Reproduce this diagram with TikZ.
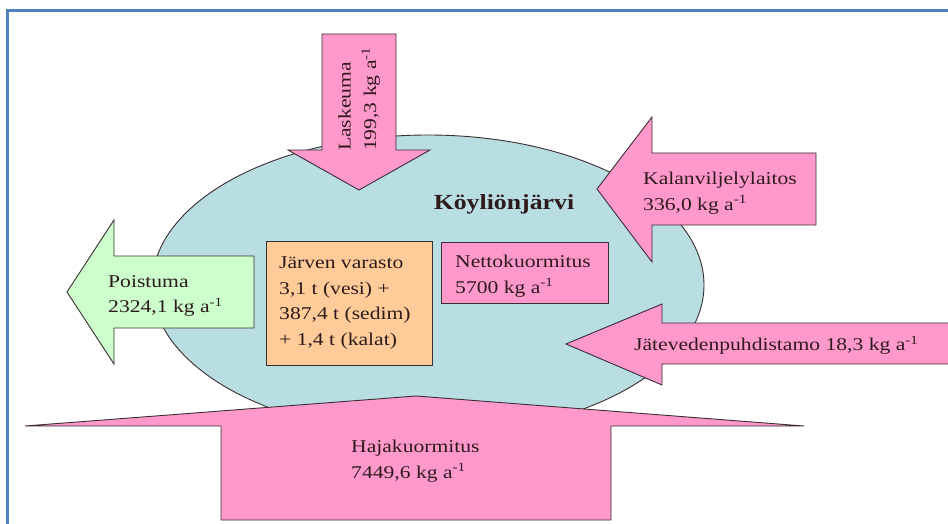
\documentclass[tikz,border=0pt]{standalone}
\usepackage{fontspec}
\setmainfont{Liberation Serif}
\newfontfamily\lakefont{Liberation Serif}[FakeStretch=1.2]
\usetikzlibrary{positioning}
\definecolor{ink}{HTML}{2E1A1C}
\definecolor{edge}{HTML}{3A2E30}
\definecolor{framecol}{HTML}{4F81BD}
\definecolor{lakefill}{HTML}{B8DEE2}
\definecolor{loadfill}{HTML}{FF99CC}
\definecolor{outfill}{HTML}{CCFFCC}
\definecolor{storefill}{HTML}{FFCC99}
\newcommand{\lbltxt}{\lakefont\fontsize{18}{25.5}\selectfont}
\newcommand{\pa}{a\textsuperscript{-1}}
\tikzset{
 every node/.append style={font=\lbltxt,text=ink,align=left,inner sep=0pt},
 lake/.style={draw=edge,fill=lakefill,line width=.9pt},
 inflow/.style={draw=edge,fill=loadfill,line width=.9pt,line join=miter},
 outflow/.style={draw=edge,fill=outfill,line width=.9pt},
 store/.style={draw=edge,fill=storefill,line width=.9pt},
 title/.style={font=\lakefont\fontsize{21.5}{26}\selectfont\bfseries},
}

\begin{document}
\begin{tikzpicture}[x=1pt,y=-1pt]

\useasboundingbox (0,0) rectangle (948,524);
\draw[framecol,line width=3pt] (7,524) -- (7,11) -- (948,11);
% lake
\draw[lake] (428,285) ellipse [x radius=276,y radius=150];
\node[title] (lakename) at (504,204) {Köyliönjärvi};
% inputs and outputs
\draw[inflow] (322,34) -- (396,34) -- (396,150) -- (430,150) -- (359,190) -- (288,150) -- (322,150) -- cycle;
\node[rotate=90,anchor=west] (deposit) at (359,151) {Laskeuma\\199,3 kg \pa};
\draw[inflow] (816,153) -- (816,225) -- (652,225) -- (652,262) -- (597,189) -- (652,117) -- (652,153) -- cycle;
\node[anchor=west] (fishfarm) at (643,193) {Kalanviljelylaitos\\336,0 kg \pa};
\draw[outflow] (254,256) -- (254,328) -- (114,328) -- (114,364) -- (67,292) -- (114,220) -- (114,256) -- cycle;
\node[anchor=west] (outlet) at (108,296) {Poistuma\\2324,1 kg \pa};
\draw[inflow] (951,323) -- (951,364) -- (662,364) -- (662,385) -- (566,344) -- (662,304) -- (662,323) -- cycle;
\node[anchor=west] (plant) at (634,345) {Jätevedenpuhdistamo 18,3 kg \pa};
\draw[inflow] (416,396) -- (804,426) -- (611,426) -- (611,520) -- (221,520) -- (221,426) -- (25,426) -- cycle;
\node[anchor=west] (diffuse) at (351,461) {Hajakuormitus\\7449,6 kg \pa};
% storage and net load
\draw[store] (266,241) rectangle (432,365);
\node[anchor=west] (storage) at (279,303) {Järven varasto\\3,1 t (vesi) +\\387,4 t (sedim)\\+ 1,4 t (kalat)};
\draw[inflow] (441,242) rectangle (608,303);
\node[anchor=west] (netload) at (455,276) {Nettokuormitus\\5700 kg \pa};

\end{tikzpicture}
\end{document}
